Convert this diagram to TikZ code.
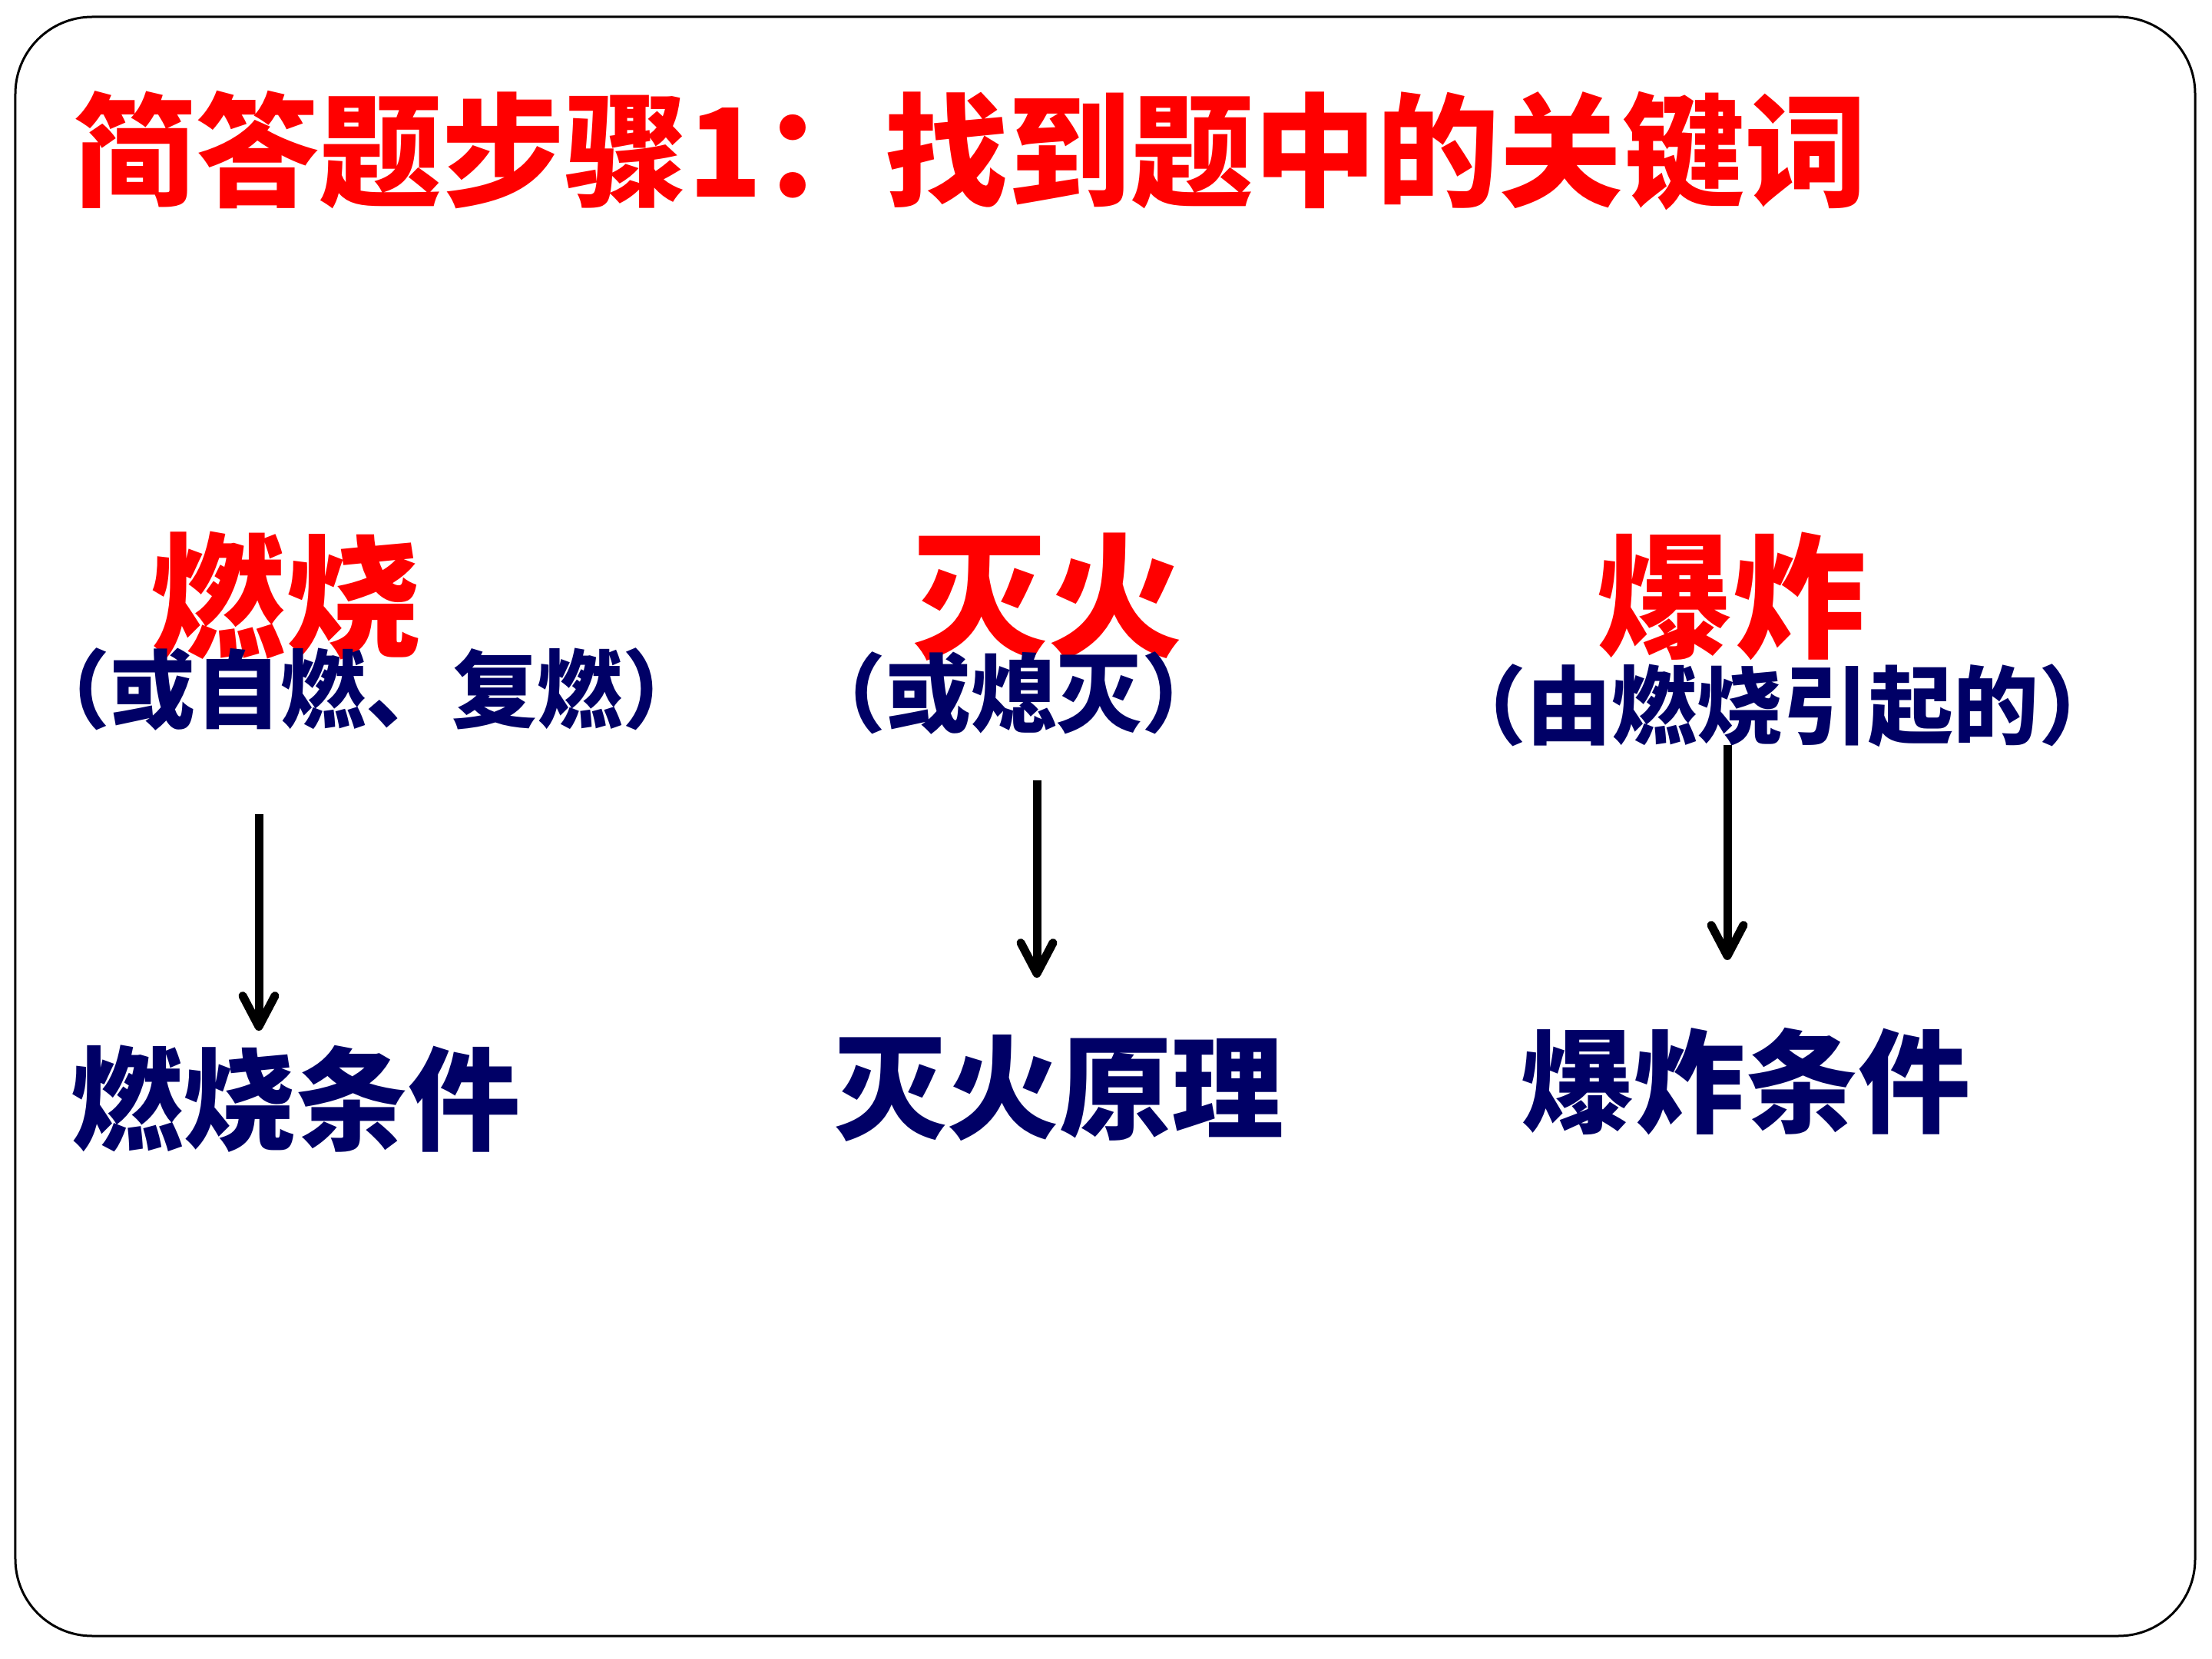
\documentclass[tikz,border=0pt]{standalone}
\usepackage{fontspec}
\newfontfamily\cjk{Noto Sans CJK SC}
\usetikzlibrary{arrows.meta}
\definecolor{navy}{RGB}{0,0,102}
\definecolor{keyred}{RGB}{255,0,0}
\tikzset{
  frame/.style={draw=black, line width=0.03cm, rounded corners=1cm},
  titletext/.style={inner sep=0pt, anchor=base west, text=keyred, font=\cjk\bfseries\fontsize{45.5pt}{50pt}\selectfont},
  keyword/.style={inner sep=0pt, anchor=base, text=keyred, font=\cjk\bfseries\fontsize{49.8pt}{55pt}\selectfont},
  note/.style={inner sep=0pt, anchor=base, text=navy, font=\cjk\bfseries\fontsize{31.6pt}{35pt}\selectfont},
  result/.style={inner sep=0pt, anchor=base, text=navy, font=\cjk\bfseries\fontsize{41.6pt}{46pt}\selectfont},
  arr/.style={draw=black, line width=0.11cm, -{Straight Barb[length=0.4cm, width=0.42cm, round]}}
}
\begin{document}
\begin{tikzpicture}
\useasboundingbox (0,0) rectangle (28.8,-21.6);
\draw[frame] (0.20,-0.22) rectangle (28.58,-21.30);
\node[titletext] (title) at (0.95,-2.57) {简答题步骤1：找到题中的关键词};

\node[keyword] (k1) at (3.72,-8.43) {燃烧};
\node[keyword] (k2) at (13.64,-8.43) {灭火};
\node[keyword] (k3) at (22.55,-8.43) {爆炸};

\node[note] (n1) at (4.77,-9.39) {（或自燃、复燃）};
\node[note] (n2) at (13.20,-9.45) {（或熄灭）};
\node[note] (n3) at (23.21,-9.60) {（由燃烧引起的）};

\node[result] (r1) at (3.85,-14.86) {燃烧条件};
\node[result] (r2) at (13.79,-14.71) {灭火原理};
\node[result] (r3) at (22.73,-14.63) {爆炸条件};

\coordinate (a1s) at (3.37,-10.60);
\coordinate (a1e) at (3.37,-13.42);
\coordinate (a2s) at (13.50,-10.16);
\coordinate (a2e) at (13.50,-12.73);
\coordinate (a3s) at (22.49,-9.70);
\coordinate (a3e) at (22.49,-12.50);
\draw[arr] (a1s) -- (a1e);
\draw[arr] (a2s) -- (a2e);
\draw[arr] (a3s) -- (a3e);
\end{tikzpicture}
\end{document}
